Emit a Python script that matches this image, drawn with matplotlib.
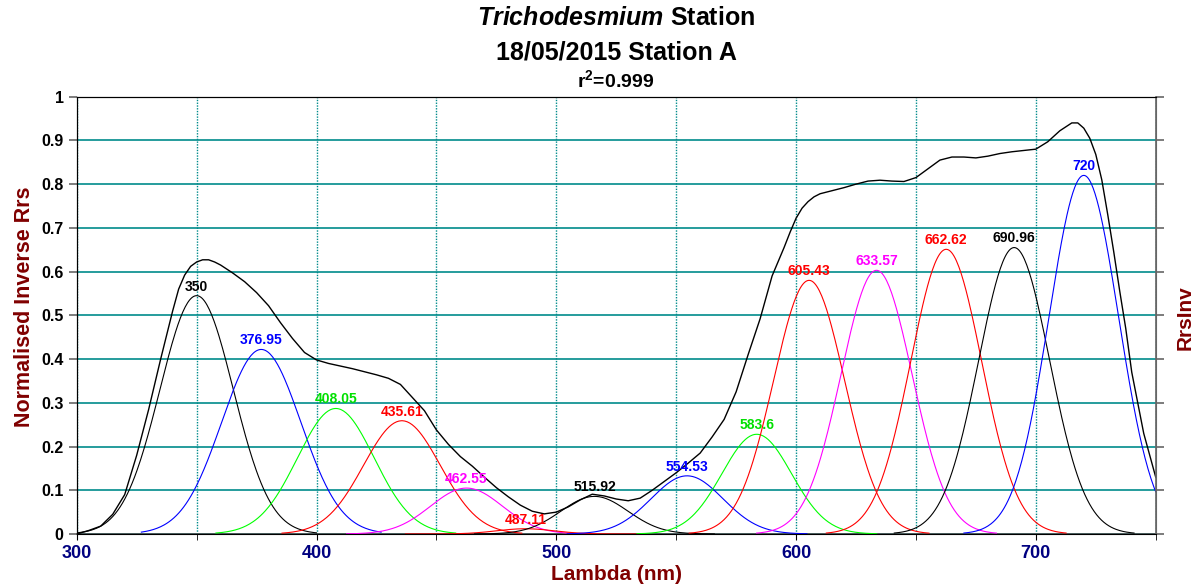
"""Gaussian decomposition of the normalised inverse Rrs spectrum."""

import matplotlib
matplotlib.use("Agg")
import matplotlib.pyplot as plt
import numpy as np
from matplotlib.ticker import MultipleLocator

plt.rcParams["font.family"] = ["Liberation Sans", "DejaVu Sans"]
plt.rcParams["mathtext.fontset"] = "custom"
plt.rcParams["mathtext.rm"] = "Liberation Sans:bold"
plt.rcParams["mathtext.it"] = "Liberation Sans:bold:italic"

# measured spectrum (normalised inverse Rrs)
env_nm = [300, 305, 310, 315, 320, 325, 330, 335, 340, 342.5, 345, 347.5,
          350, 352.5, 355, 357.5, 360, 365, 370, 375, 380, 385, 390, 395,
          400, 405, 410, 415, 420, 425, 430, 435, 440, 445, 450, 455, 460,
          465, 470, 475, 480, 485, 490, 495, 500, 505, 510, 515, 520, 525,
          530, 535, 540, 545, 550, 555, 560, 565, 570, 575, 580, 585, 590,
          595, 597.5, 600, 602.5, 605, 607.5, 610, 615, 620, 625, 630, 635,
          640, 645, 650, 655, 660, 665, 670, 675, 680, 685, 690, 695, 700,
          705, 710, 715, 717.5, 720, 722.5, 725, 727.5, 730, 732.5, 735,
          737.5, 740, 745, 750]
env_val = [0.0, 0.008, 0.018, 0.045, 0.09, 0.18, 0.285, 0.40, 0.51, 0.56,
           0.592, 0.612, 0.622, 0.627, 0.627, 0.622, 0.615, 0.597, 0.577,
           0.552, 0.522, 0.483, 0.447, 0.415, 0.398, 0.390, 0.384, 0.378,
           0.371, 0.364, 0.356, 0.342, 0.312, 0.282, 0.238, 0.205, 0.177,
           0.155, 0.130, 0.106, 0.085, 0.066, 0.052, 0.046, 0.050, 0.062,
           0.078, 0.091, 0.087, 0.080, 0.076, 0.082, 0.100, 0.120, 0.140,
           0.162, 0.185, 0.222, 0.262, 0.325, 0.410, 0.492, 0.590, 0.655,
           0.690, 0.722, 0.745, 0.760, 0.771, 0.778, 0.785, 0.792, 0.800,
           0.807, 0.809, 0.807, 0.806, 0.815, 0.835, 0.855, 0.862, 0.862,
           0.860, 0.864, 0.870, 0.874, 0.877, 0.880, 0.897, 0.922, 0.940,
           0.940, 0.928, 0.905, 0.868, 0.810, 0.730, 0.645, 0.555, 0.470,
           0.370, 0.230, 0.130]

# fitted gaussian bands
peak_centre = [350, 376.95, 408.05, 435.61, 462.55, 487.11, 515.92, 554.53,
               583.6, 605.43, 633.57, 662.62, 690.96, 720]
peak_height = [0.545, 0.422, 0.287, 0.259, 0.105, 0.012, 0.086, 0.133,
               0.228, 0.58, 0.603, 0.651, 0.655, 0.82]
peak_sigma = [15.3, 16.5, 16.0, 16.0, 15.0, 12.0, 14.0, 15.0,
              14.5, 14.8, 14.8, 14.8, 14.8, 14.5]
peak_colour = ["black", "blue", "#00ff00", "red", "magenta", "red", "black",
               "blue", "#00ff00", "red", "magenta", "red", "black", "blue"]
label_colour = {"#00ff00": "#00e000"}

TEAL = "#008b8b"
DARK_RED = "#800000"
NAVY = "#000080"

fig = plt.figure(figsize=(12.01, 5.87), dpi=100)
ax = fig.add_axes([0.0639, 0.0903, 0.8984, 0.745])

for c, h, s, col in zip(peak_centre, peak_height, peak_sigma, peak_colour):
    x = np.linspace(max(300, c - 50), min(750, c + 50), 200)
    ax.plot(x, h * np.exp(-0.5 * ((x - c) / s) ** 2), color=col, lw=0.8,
            zorder=3)
    ax.annotate(f"{c:g}", (c, h), xytext=(0, 1.5), textcoords="offset points",
                ha="center", va="bottom", fontsize=10, fontweight="bold",
                color=label_colour.get(col, col), zorder=5)

ax.plot(env_nm, env_val, color="black", lw=1.0, zorder=4)

ax.set_xlim(300, 750)
ax.set_ylim(0, 1)
ax.xaxis.set_major_locator(MultipleLocator(100))
ax.xaxis.set_minor_locator(MultipleLocator(50))
ax.set_yticks(np.arange(0, 1.01, 0.1))
ax.set_yticklabels(["0"] + [f"{v:.1f}" for v in np.arange(0.1, 0.95, 0.1)]
                   + ["1"])

ax.grid(axis="y", which="major", color=TEAL, lw=1.2, zorder=1)
ax.grid(axis="x", which="both", color=TEAL, lw=1.0, ls=(0, (1, 1)), zorder=1)
ax.set_axisbelow(True)

ax.tick_params(axis="y", direction="out", length=6, width=1.2,
               color="#666666", pad=3.5, labelsize=11.5)
ax.tick_params(axis="x", which="both", direction="out", length=4,
               color="black", pad=4, labelsize=13, labelcolor=NAVY)
for lab in ax.get_xticklabels() + ax.get_yticklabels():
    lab.set_fontweight("bold")
for side in ("left", "top"):
    ax.spines[side].set_color("black")
ax.spines["bottom"].set_color("#555555")
ax.spines["right"].set_color("#666666")
ax.spines["bottom"].set_linewidth(1.2)

ax.set_xlabel("Lambda (nm)", fontsize=15, fontweight="bold", color=DARK_RED)
ax.xaxis.set_label_coords(0.5, -0.071)
ax.set_ylabel("Normalised Inverse Rrs", fontsize=15.5, fontweight="bold",
              color=DARK_RED)
ax.yaxis.set_label_coords(-0.0387, 0.519)

ax2 = ax.twinx()
ax2.set_ylim(0, 1)
ax2.set_yticks(np.arange(0, 1.01, 0.1))
ax2.tick_params(axis="y", direction="out", length=6, width=1.2,
                color="#666666", labelright=False)
ax2.spines["right"].set_color("#666666")
ax2.spines["right"].set_linewidth(1.2)
ax2.set_ylabel("RrsInv", fontsize=15, fontweight="bold", color=DARK_RED)
ax2.yaxis.set_label_coords(1.018, 0.494)

fig.text(0.513, 0.969, r"$\it{Trichodesmium}$ Station", ha="center",
         va="center", fontsize=18, fontweight="bold")
fig.text(0.513, 0.911, "18/05/2015 Station A", ha="center", va="center",
         fontsize=18, fontweight="bold")
fig.text(0.513, 0.864, r"r$^\mathregular{2}$=0.999", ha="center",
         va="center", fontsize=14, fontweight="bold")

fig.savefig("out.png", dpi=100)
